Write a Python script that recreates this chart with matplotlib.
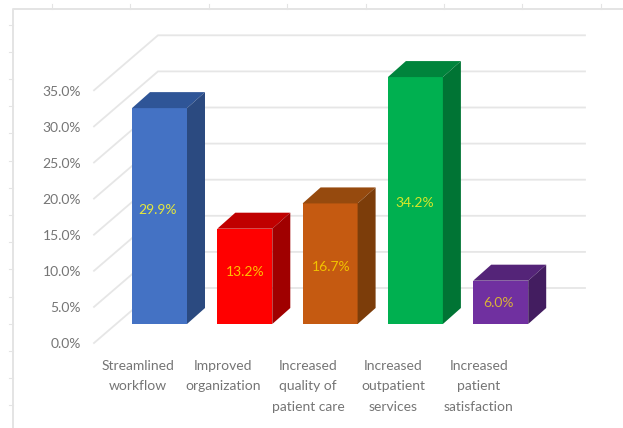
import matplotlib
matplotlib.use('Agg')
import matplotlib.pyplot as plt
import numpy as np

categories = ['Streamlined\nworkflow', 'Improved\norganization', 'Increased\nquality of\npatient care',
              'Increased\noutpatient\nservices', 'Increased\npatient\nsatisfaction']
values = [29.9, 13.2, 16.7, 34.2, 6.0]
ticks = [0, 5, 10, 15, 20, 25, 30, 35]
front_colors = ['#4472c4', '#ff0000', '#c55a11', '#00b050', '#7030a0']
top_colors = ['#2f5597', '#c00000', '#964a0e', '#00843c', '#542478']
side_colors = ['#2b4a80', '#a00000', '#7c3d0a', '#007434', '#431d60']
label_colors = ['#e6e83c', '#ffc000', '#f2c200', '#d4e82a', '#d9b23a']
label_nudge = [0.8, 0.55, -0.4, -0.4, -0.1]
label_shift = [-0.025, 0, 0.015, -0.005, -0.025]

plt.rcParams['font.family'] = ['Lato', 'DejaVu Sans']

fig = plt.figure(figsize=(6.23, 4.28), dpi=100)

# spreadsheet frame behind the chart, in pixels
bg = fig.add_axes([0, 0, 1, 1])
bg.set_xlim(0, 623)
bg.set_ylim(428, 0)
bg.axis('off')
frame = '#e4e4e4'
bg.plot([13, 13, 623], [428, 9, 9], color=frame, lw=1.4)
for x in np.arange(52, 623, 78.4):
    bg.plot([x, x], [4, 9], color=frame, lw=0.8)
for y in np.arange(24.5, 428, 27.2):
    bg.plot([9, 13], [y, y], color=frame, lw=0.8)

# main axes: x in category slots, y in percent on the bars' front plane
ax = fig.add_axes([0, 0, 1, 1])
ax.patch.set_alpha(0)
slot = 85.3
scale = 7.22
ax.set_xlim(-159.5 / slot, (623 - 159.5) / slot)
ax.set_ylim((324 - 428) / scale, 324 / scale)
ax.axis('off')

half = 27.5 / slot
dx = 18 / slot
dy = 16 / scale

# walls
x_front = (94 - 159.5) / slot
x_back = (158 - 159.5) / slot
x_end = (585 - 159.5) / slot
grid = '#e6e6e6'
for t in ticks:
    ax.plot([x_front, x_back, x_end], [t - 19 / scale, t + 36 / scale, t + 36 / scale],
            color=grid, lw=1.3, zorder=1, solid_joinstyle='miter')
    ax.text((81 - 159.5) / slot, t - 19 / scale - 0.2, f'{t:.1f}%', ha='right', va='center',
            fontsize=10, color='#757575')

x = np.arange(len(values))
ax.bar(x, values, width=2 * half, color=front_colors, zorder=3)
for i, v in enumerate(values):
    l = i - half
    r = i + half
    ax.fill([l, r, r + dx, l + dx], [v, v, v + dy, v + dy], color=top_colors[i], lw=0, zorder=3)
    ax.fill([r, r + dx, r + dx, r], [0, dy, v + dy, v], color=side_colors[i], lw=0, zorder=3)
    ax.text(i + label_shift[i], v / 2 + label_nudge[i], f'{v:.1f}%', ha='center', va='center',
            fontsize=10, color=label_colors[i], zorder=4)
    ax.text(i - 22 / slot, -35.5 / scale, categories[i], ha='center', va='top',
            fontsize=10, color='#757575', linespacing=1.88)

fig.savefig('out.png', dpi=100)
